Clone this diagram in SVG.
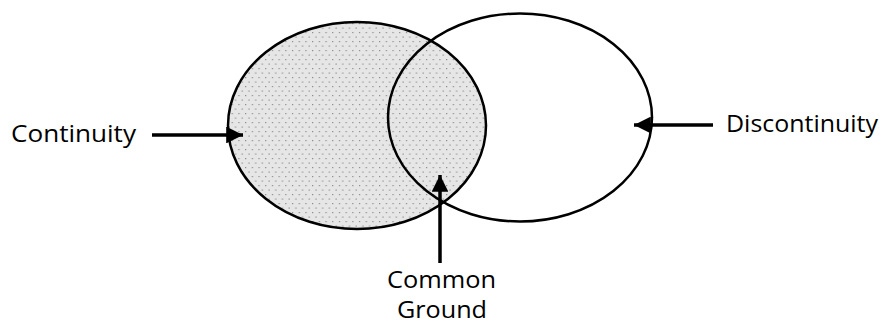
<svg xmlns="http://www.w3.org/2000/svg" width="885" height="324" viewBox="0 0 885 324">
<style>
.lbl{font-family:"Open Sans","Noto Sans","Liberation Sans",sans-serif;font-size:24px;fill:#000}
.ell{stroke:#000;stroke-width:2.5}
.conn{stroke:#000;stroke-width:3.5;fill:none}
</style>
<defs>
<pattern id="dots" patternUnits="userSpaceOnUse" width="13.4" height="9">
<rect width="13.4" height="9" fill="#e6e6e6"/>
<rect x="0.5" y="0.5" width="1.2" height="1.2" fill="#8a8a8a"/>
<rect x="7.2" y="0.5" width="1.2" height="1.2" fill="#8a8a8a"/>
<rect x="3.85" y="5" width="1.2" height="1.2" fill="#8a8a8a"/>
<rect x="10.55" y="5" width="1.2" height="1.2" fill="#8a8a8a"/>
</pattern>
<marker id="ah" viewBox="0 0 10 10" refX="10" refY="5" markerWidth="4.8" markerHeight="4.8" orient="auto" markerUnits="strokeWidth">
<path d="M0,0 L10,5 L0,10 z" fill="#000"/>
</marker>
</defs>
<g id="continuity-circle">
<ellipse class="ell" cx="357" cy="125.5" rx="129" ry="103.5" fill="url(#dots)"/>
</g>
<g id="discontinuity-circle">
<ellipse class="ell" cx="520" cy="117.5" rx="132" ry="104" fill="none"/>
</g>
<g id="connectors">
<line class="conn" x1="152" y1="135" x2="243" y2="135" marker-end="url(#ah)"/>
<line class="conn" x1="713" y1="125" x2="634" y2="125" marker-end="url(#ah)"/>
<line class="conn" x1="440" y1="263" x2="440" y2="175" marker-end="url(#ah)"/>
</g>
<g id="label-continuity">
<text class="lbl" x="11" y="142" textLength="125" lengthAdjust="spacingAndGlyphs">Continuity</text>
</g>
<g id="label-discontinuity">
<text class="lbl" x="726" y="132" textLength="152" lengthAdjust="spacingAndGlyphs">Discontinuity</text>
</g>
<g id="label-common-ground">
<text class="lbl" x="387" y="288" textLength="109" lengthAdjust="spacingAndGlyphs">Common</text>
<text class="lbl" x="397" y="318" textLength="90" lengthAdjust="spacingAndGlyphs">Ground</text>
</g>
</svg>
